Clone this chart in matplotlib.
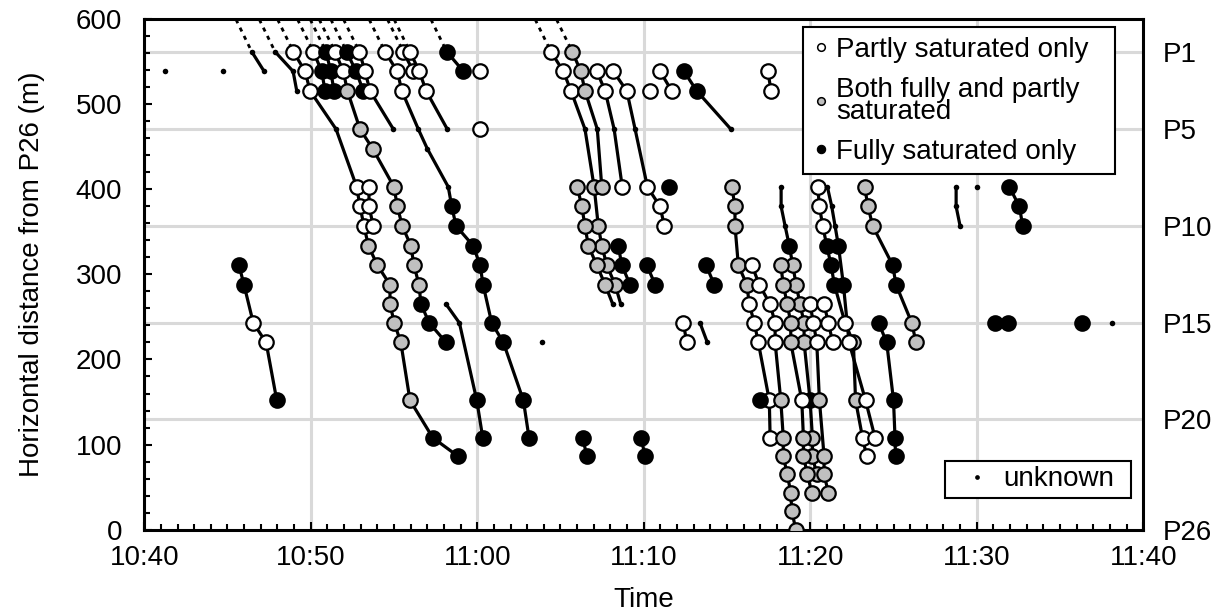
import matplotlib
matplotlib.use("Agg")
import matplotlib.pyplot as plt
from matplotlib.lines import Line2D
from matplotlib.ticker import MultipleLocator, FuncFormatter

plt.rcParams['font.family'] = ['Liberation Sans', 'DejaVu Sans']

# distance of each station from P26 (m), P1 .. P26
stations = [562, 539, 516, 494, 471, 448, 425, 403, 380, 357, 334, 311, 288,
            265, 243, 220, 197, 175, 152, 130, 108, 86, 65, 43, 22, 0]
labelled = [1, 5, 10, 15, 20, 26]

# each track: (minutes after 10:40, station number, kind of each point)
# o = partly saturated only, g = both, f = fully saturated only, u = unknown
tr_a = ([6.46, 7.20], [1, 2], "uu")
tr_b = ([7.86, 8.94, 9.16], [1, 2, 3], "uuu")
tr_c = ([8.96, 9.66, 9.96, 11.52, 12.76, 12.96, 13.20, 13.46, 14.00, 14.76,
         14.76, 15.02, 15.41, 15.96, 17.33, 18.86],
        [1, 2, 3, 5, 8, 9, 10, 11, 12, 13, 14, 15, 16, 19, 21, 22],
        "ooouooogggggggff")
tr_c2 = ([13.50, 13.50, 13.76], [8, 9, 10], "ooo")
tr_d = ([10.16, 10.66, 10.86], [1, 2, 3], "off")
tr_e = ([10.92, 11.20, 11.40], [1, 2, 3], "fff")
tr_f = ([11.46, 11.96, 12.20, 12.96, 13.72, 15.00, 15.20, 15.50, 16.01, 16.20,
         16.50, 16.62, 17.12, 18.13],
        [1, 2, 3, 5, 6, 8, 9, 10, 11, 12, 13, 14, 15, 16],
        "ooggggggggg" + "fff")
tr_g = ([12.16, 12.72, 13.16], [1, 2, 3], "fff")
tr_h = ([12.92, 13.26, 13.56, 14.96], [1, 2, 3, 5], "ooou")
tr_i = ([14.46, 15.20, 15.47, 16.46, 17.00, 18.26, 18.47, 18.73, 19.75, 20.17,
         20.35, 20.87, 21.57, 22.77, 23.11],
        [1, 2, 3, 5, 6, 8, 9, 10, 11, 12, 13, 15, 16, 19, 21],
        "ooouuu" + "fffffffff")
tr_j = ([15.56, 16.16], [1, 2], "oo")
tr_k = ([15.96, 16.52, 16.93, 18.20], [1, 2, 3, 5], "ooou")
tr_l = ([18.17, 19.17], [1, 2], "ff")
tr_m = ([5.69, 5.99, 6.55, 7.32, 7.96], [12, 13, 15, 16, 19], "ffoof")
tr_n = ([18.13, 18.93, 19.97, 20.33], [14, 15, 19, 21], "uuff")
tr_p = ([24.43, 25.17, 25.63, 26.47, 27.02, 27.27, 27.48, 27.78, 28.28, 28.62],
        [1, 2, 3, 5, 8, 10, 11, 12, 13, 14], "ooou" + "gggggu")
tr_q = ([25.71, 26.22, 26.47, 27.21, 27.48], [1, 2, 3, 5, 8], "ggg" + "ug")
tr_r = ([26.01, 26.28, 26.47, 26.67, 27.18, 27.68, 28.14],
        [8, 9, 10, 11, 12, 13, 14], "ggggggu")
tr_s = ([27.18, 27.68, 28.22, 28.71], [2, 3, 5, 8], "oouo")
tr_t = ([28.47, 28.68, 29.18], [11, 12, 13], "fff")
tr_u = ([28.17, 28.98, 29.48, 30.22, 30.98, 31.24], [2, 3, 5, 8, 9, 10], "oouooo")
tr_v1 = ([35.29, 35.48, 35.48, 35.68, 36.19, 36.34, 36.64, 36.88, 37.54, 37.59],
         [8, 9, 10, 12, 13, 14, 15, 16, 19, 21], "gggggooooo")
tr_v2 = ([36.49, 36.94, 37.59, 37.89, 37.89, 38.23, 38.38, 38.38, 38.62, 38.83,
          38.89, 39.13],
         [12, 13, 14, 15, 16, 19, 21, 22, 23, 24, 25, 26], "ooooo" + "ggggggg")
tr_v3 = ([38.25, 38.25, 38.49, 38.74, 38.95, 39.15, 39.39, 39.63, 39.63, 39.99,
          40.13, 40.13, 40.39],
         [8, 9, 10, 11, 12, 13, 14, 15, 16, 19, 21, 22, 23], "uuuf" + "gggggfggg")
tr_v4 = ([38.23, 38.38, 38.62, 38.83, 38.83, 39.49, 39.59, 39.59, 39.83, 40.09],
         [12, 13, 14, 15, 16, 19, 21, 22, 23, 24], "gggggogggg")
tr_v5 = ([39.99, 40.19, 40.39, 40.55, 40.83, 40.83, 41.09],
         [14, 15, 16, 19, 22, 23, 24], "ooogggg")
tr_v6 = ([40.83, 41.09, 41.35], [14, 15, 16], "ooo")
tr_w1 = ([40.45, 40.55, 40.75, 40.99, 41.25, 41.45, 42.09, 42.59, 42.72, 43.14,
          43.39],
         [8, 9, 10, 11, 12, 13, 15, 16, 19, 21, 22], "ooofffoggoo")
tr_w2 = ([41.03, 41.29, 41.49, 41.69, 41.99, 42.33, 43.32, 43.89],
         [8, 9, 10, 11, 13, 16, 19, 21], "uuuffooo")
tr_x = ([43.26, 43.47, 43.75, 44.95, 45.15, 46.10, 46.35],
        [8, 9, 10, 12, 13, 15, 16], "gggffgg")
tr_y = ([44.11, 44.59, 45.00, 45.09, 45.12], [15, 16, 19, 21, 22], "fffff")
tr_z1 = ([48.76, 48.76, 49.00], [8, 9, 10], "uuu")
tr_z2 = ([51.96, 52.56, 52.76], [8, 9, 10], "fff")

# short pairs and single observations
pairs = [
    ([1.25], [2], "u"), ([4.71], [2], "u"), ([20.17], [2], "o"), ([20.17], [5], "o"),
    ([31.50], [8], "f"), ([30.18, 30.69], [12, 13], "ff"), ([33.74, 34.24], [12, 13], "ff"),
    ([32.38, 32.58], [15, 16], "oo"), ([33.38, 33.82], [15, 16], "uu"), ([23.87], [16], "u"),
    ([26.34, 26.58], [21, 22], "ff"), ([29.84, 30.08], [21, 22], "ff"),
    ([30.98, 31.68], [2, 3], "oo"), ([30.39], [3], "o"),
    ([32.42, 33.18, 35.23], [2, 3, 5], "ffu"), ([37.45, 37.65], [2, 3], "oo"),
    ([36.99], [19], "f"), ([50.0], [8], "u"),
    ([51.10], [15], "f"), ([51.90], [15], "f"), ([56.31], [15], "f"), ([58.11], [15], "u"),
]

tracks = [tr_a, tr_b, tr_c, tr_c2, tr_d, tr_e, tr_f, tr_g, tr_h, tr_i, tr_j, tr_k,
          tr_l, tr_m, tr_n, tr_p, tr_q, tr_r, tr_s, tr_t, tr_u, tr_v1, tr_v2,
          tr_v3, tr_v4, tr_v5, tr_v6, tr_w1, tr_w2, tr_x, tr_y, tr_z1, tr_z2] + pairs

GRAY = '#c0c0c0'
styles = {
    'o': dict(marker='o', ms=10.4, mfc='white', mec='k', mew=1.6),
    'g': dict(marker='o', ms=10.4, mfc=GRAY, mec='k', mew=1.6),
    'f': dict(marker='o', ms=10.4, mfc='k', mec='k', mew=1.6),
    'u': dict(marker='o', ms=4.0, mfc='k', mec='k', mew=0),
}
LEAD = 0.95  # minutes of dashed approach line above P1

fig = plt.figure(figsize=(12.12, 6.16), dpi=100)
ax = fig.add_axes([0.119, 0.1404, 0.8243, 0.828])

for times, st, kinds in tracks:
    d = [stations[s - 1] for s in st]
    if st[0] == 1:
        ax.plot([times[0] - LEAD, times[0]], [600, d[0]], color='k', lw=2.0,
                dashes=(1.5, 1.8), zorder=2)
    if len(times) > 1:
        ax.plot(times, d, color='k', lw=2.3, zorder=2, solid_capstyle='round')
    for t, y, k in zip(times, d, kinds):
        ax.plot([t], [y], ls='none', zorder=3, **styles[k])

ax.set_xlim(0, 60)
ax.set_ylim(0, 600)
ax.xaxis.set_major_locator(MultipleLocator(10))
ax.xaxis.set_minor_locator(MultipleLocator(1))
ax.yaxis.set_major_locator(MultipleLocator(100))
ax.yaxis.set_minor_locator(MultipleLocator(20))


def clock(v, pos):
    m = int(round(v)) + 40
    return f"{10 + m // 60}:{m % 60:02d}"


ax.xaxis.set_major_formatter(FuncFormatter(clock))
ax.tick_params(which='both', direction='in', top=False, right=False, width=1.5,
               labelsize=20, colors='k')
ax.tick_params(which='major', length=6)
ax.tick_params(which='minor', length=4)
ax.tick_params(axis='y', pad=16)
ax.tick_params(axis='x', pad=11)

ax.set_axisbelow(True)
ax.grid(axis='x', which='major', color='#d9d9d9', lw=2.2, zorder=0)
for s in labelled[:-1]:
    ax.axhline(stations[s - 1], color='#d9d9d9', lw=2.2, zorder=0.5)
for sp in ax.spines.values():
    sp.set_linewidth(2.2)

ax.set_xlabel("Time", fontsize=20, labelpad=12)
ax.set_ylabel("Horizontal distance from P26 (m)", fontsize=20, labelpad=22)

ax2 = ax.twinx()
ax2.set_ylim(0, 600)
ax2.set_yticks([stations[s - 1] for s in labelled])
ax2.set_yticklabels([f"P{s}" for s in labelled])
ax2.tick_params(axis='y', length=0, pad=14, labelsize=20)
for sp in ax2.spines.values():
    sp.set_visible(False)

h_open = Line2D([], [], ls='none', marker='o', ms=5.5, mfc='white', mec='k', mew=1.1)
h_gray = Line2D([], [], ls='none', marker='o', ms=5.5, mfc=GRAY, mec='k', mew=1.1)
h_fill = Line2D([], [], ls='none', marker='o', ms=6, mfc='k', mec='k', mew=0.8)
h_unk = Line2D([], [], ls='none', marker='o', ms=3.4, mfc='k', mec='k', mew=0)

leg1 = ax2.legend([h_open, h_gray, h_fill],
                  ["Partly saturated only", "Both fully and partly\nsaturated",
                   "Fully saturated only"],
                  loc='upper left', bbox_to_anchor=(0.6595, 0.70, 0.3123, 0.285),
                  mode='expand', borderaxespad=0, fancybox=False, edgecolor='k',
                  framealpha=1, fontsize=20, handlelength=0.6, handletextpad=0.25,
                  borderpad=0.35, labelspacing=0.5)
leg1.get_frame().set_linewidth(1.5)
for t in leg1.get_texts():
    t.set_linespacing(0.8)
ax2.add_artist(leg1)

leg2 = ax2.legend([h_unk], ["unknown"], loc='lower left',
                  bbox_to_anchor=(0.8016, 0.062, 0.1859, 0.084), mode='expand',
                  borderaxespad=0, fancybox=False, edgecolor='k', framealpha=1,
                  fontsize=20, handlelength=1.9, handletextpad=0.0, borderpad=0.2)
leg2.get_frame().set_linewidth(1.5)

fig.savefig("out.png", dpi=100)
